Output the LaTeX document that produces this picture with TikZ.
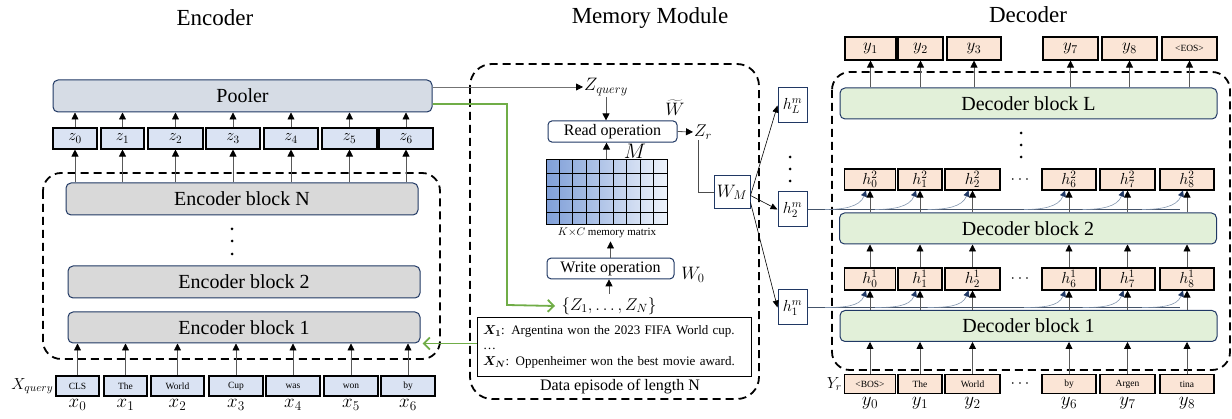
\documentclass[tikz,border=0pt]{standalone}
\usepackage{fix-cm}
\usepackage{bm}
\usepackage{fontspec}
\setmainfont{Liberation Serif}
\usetikzlibrary{arrows.meta,positioning}
\definecolor{navy}{HTML}{203864}
\definecolor{encgray}{HTML}{D9D9D9}
\definecolor{poolgray}{HTML}{D6DCE5}
\definecolor{etokblue}{HTML}{DAE3F3}
\definecolor{dtokpeach}{HTML}{FBE5D6}
\definecolor{decgreen}{HTML}{E2F0D9}
\definecolor{leafgreen}{HTML}{70AD47}
\definecolor{matdark}{HTML}{7F9FD8}
\definecolor{matlight}{HTML}{EEF3FB}
\definecolor{curvecol}{HTML}{8497B0}
\definecolor{memln}{HTML}{44546A}
\begin{document}
\begin{tikzpicture}[x=1pt,y=-1pt,
  blk/.style={draw=navy,line width=1pt,rounded corners=5pt,minimum height=31pt,font=\fontsize{20}{22}\selectfont},
  encblk/.style={blk,fill=encgray,minimum width=352pt},
  decblk/.style={blk,fill=decgreen,minimum width=377pt},
  tok/.style={draw=black,line width=1.1pt,inner sep=0pt,minimum height=21pt},
  etok/.style={tok,fill=etokblue},
  dtok/.style={tok,fill=dtokpeach},
  word/.style={font=\fontsize{9.5}{10}\selectfont},
  sym/.style={font=\fontsize{16}{16}\selectfont},
  opbox/.style={draw=navy,line width=1pt,rounded corners=4pt,fill=white,minimum height=19pt,font=\fontsize{16}{18}\selectfont},
  wbox/.style={draw=navy,line width=1pt,fill=white,inner sep=0pt},
  up/.style={draw=black!65,line width=0.8pt,-{Triangle[width=7pt,length=7pt,color=black]}},
  thin/.style={draw=black,line width=0.6pt,-{Triangle[width=6pt,length=7pt]}},
  memarr/.style={draw=curvecol,line width=0.6pt,-{Triangle[width=6pt,length=6pt,color=navy]}},
  grp/.style={line width=1.8pt,dash pattern=on 8pt off 5pt,rounded corners=18pt},
  grn/.style={draw=leafgreen,line width=1.8pt,-{Straight Barb[length=6pt,width=12pt]}},
  title/.style={font=\fontsize{23}{25}\selectfont},
  lab/.style={font=\fontsize{19}{20}\selectfont}]
\useasboundingbox (0,0) rectangle (1232,419);

\node[title] (enctitle) at (215,18) {Encoder};
\node[title] (memtitle) at (650,18) {Memory Module};
\node[title] (dectitle) at (1028,15) {Decoder};

\draw[grp] (43,173) rectangle (440,359);
\node[blk,fill=poolgray,minimum width=379pt,minimum height=32pt] (pooler) at (242.5,96) {Pooler};
\node[encblk,minimum height=32pt] (ebN) at (242,199) {Encoder block N};
\node[encblk,minimum height=32pt] (eb2) at (244,282) {Encoder block 2};
\node[encblk] (eb1) at (244,327.5) {Encoder block 1};
\foreach \y in {229,241,254}
\fill (232,\y) circle[radius=1.5pt];

\foreach \i/\cx/\w in {0/75/44,1/122.5/43,2/175.5/55,3/233/54,4/291/54,5/349.5/55,6/406/54}{
  \node[etok,sym,minimum width=\w pt] (z\i) at (\cx,138.5) {$z_{\i}$};
  \draw[up] (z\i.north) -- (z\i.north |- pooler.south);
  \draw[up] (z\i.south |- ebN.north) -- (z\i.south);
}
\foreach \i/\cx/\w/\t in {0/77.5/43/CLS,1/125.5/43/The,2/177.5/53/World,3/236/54/Cup,4/293/54/was,5/351/54/won,6/408/54/by}{
  \node[etok,word,minimum width=\w pt,minimum height=20pt] (x\i) at (\cx,386) {\t};
  \node[lab,anchor=north,inner sep=1pt] (xl\i) at ([yshift=-2pt]x\i.south) {$x_{\i}$};
  \draw[up] (x\i.north) -- (x\i.north |- eb1.south);
}
\node[font=\fontsize{16}{16}\selectfont,anchor=east,inner sep=2pt] (xq) at (x0.west) {$X_{query}$};

\draw[grp,rounded corners=22pt] (470,64) rectangle (759,399);
\node[font=\fontsize{18}{18}\selectfont,anchor=west,inner sep=1pt] (zq) at (583,87) {$Z_{query}$};
\draw[up,draw=black!55] ([yshift=9pt]pooler.east) -- (zq.west);
\node[opbox,minimum width=129pt] (read) at (612.5,131.5) {Read operation};
\draw[up] (zq.south) -- (zq.south |- read.north);
\node[font=\fontsize{18}{18}\selectfont] (wt) at (675,108) {$\widetilde{W}$};
\node[font=\fontsize{17}{18}\selectfont,anchor=west,inner sep=1pt] (zr) at (693,132) {$Z_r$};
\draw[up] (read.east) -- (zr.west);
\shade[left color=matdark,right color=matlight] (546,160) rectangle (667,225);
\foreach \c in {1,...,8}
\draw[line width=0.8pt] (546+\c*121/9,160) -- (546+\c*121/9,225);
\foreach \r in {1,...,4}
\draw[line width=0.8pt] (546,160+\r*13) -- (667,160+\r*13);
\node[draw,line width=1pt,minimum width=121pt,minimum height=65pt,inner sep=0pt] (mem) at (606.5,192.5) {};
\node[font=\fontsize{21}{22}\selectfont] (mlab) at (635,151) {$M$};
\draw[up] (mem.north) -- (mem.north |- read.south);
\node[font=\fontsize{11}{12}\selectfont] (mcap) at (607,233) {$K{\times}C$ memory matrix};
\node[opbox,minimum width=127pt] (write) at (610.5,268.5) {Write operation};
\draw[up] (write.north) -- (write.north |- mcap.south);
\node[font=\fontsize{18}{18}\selectfont] (w0) at (693,275) {$W_0$};
\node[font=\fontsize{17}{18}\selectfont] (zset) at (609,306) {$\{Z_1,\dots,Z_N\}$};
\draw[up] (zset.north) -- (zset.north |- write.south);
\node[draw,line width=0.8pt,minimum width=274pt,minimum height=59pt,text width=262pt,align=left,inner xsep=6pt,inner ysep=3pt,font=\fontsize{13}{15.5}\selectfont] (data) at (614,346.5) {$\bm{X_1}$: Argentina won the 2023 FIFA World cup.\\ \dots\\ $\bm{X_N}$: Oppenheimer won the best movie award.};
\node[font=\fontsize{16}{18}\selectfont] (dep) at (620,387) {Data episode of length N};

\coordinate (gturn) at (507,305);
\draw[grn] ([yshift=-8pt]pooler.east) -| (gturn) -- ([xshift=-3pt]zset.west);
\draw[grn] (data.west |- eb1.south east) -- ([xshift=2pt]eb1.south east);

\node[wbox,minimum width=36pt,minimum height=33pt,font=\fontsize{18}{18}\selectfont] (wm) at (732,192.5) {$W_M$};
\draw[draw=black!70,line width=0.8pt] ([xshift=-5pt]zr.south) |- (wm.west);
\foreach \n/\cy in {L/105.5,2/209.5,1/307.5}
\node[wbox,minimum width=29pt,minimum height=35pt,font=\fontsize{16}{18}\selectfont] (hm\n) at (792.5,\cy) {$h^m_{\n}$};
\foreach \y in {157,169,181}
\fill (790,\y) circle[radius=1.5pt];
\draw[thin] ([yshift=-3pt]wm.east) -- (hmL.west);
\draw[thin] ([yshift=-3pt]wm.east) -- (hm2.west);
\draw[thin] ([yshift=-10pt]wm.east) -- (hm1.west);

\draw[grp] (832,72) rectangle (1230,370);
\node[decblk] (dbL) at (1028.5,103.5) {Decoder block L};
\node[decblk] (db2) at (1028,228.5) {Decoder block 2};
\node[decblk] (db1) at (1028.5,326) {Decoder block 1};
\foreach \y in {133,145,157}
\fill (1021,\y) circle[radius=1.5pt];
\foreach \y in {180,279,384}
\node[sym] at (1020,\y) {$\cdots$};

\draw[memln,line width=0.9pt] (hm2.east) -- (1180,209.5);
\draw[memln,line width=0.9pt] (hm1.east) -- (1180,307.5);
\foreach \i/\cx/\w/\t in {0/870/51/{<BOS>},1/920/44/The,2/972.5/55/World,6/1069/54/by,7/1127.5/55/Argen,8/1187/54/tina}{
  \node[dtok,word,minimum width=\w pt,minimum height=19pt] (yin\i) at (\cx,384) {\t};
  \node[lab,anchor=north,inner sep=1pt] (yl\i) at ([yshift=-2pt]yin\i.south) {$y_{\i}$};
  \node[dtok,sym,minimum width=\w pt,minimum height=22pt] (ha\i) at (\cx,279) {$h^1_{\i}$};
  \node[dtok,sym,minimum width=\w pt,minimum height=21pt] (hb\i) at (\cx,179.5) {$h^2_{\i}$};
  \draw[up] (yin\i.north) -- (yin\i.north |- db1.south);
  \draw[up] (ha\i.south |- db1.north) -- (ha\i.south);
  \draw[up] (ha\i.north) -- (ha\i.north |- db2.south);
  \draw[up] (hb\i.south |- db2.north) -- (hb\i.south);
  \draw[memarr] ([xshift=-45pt]ha\i.south |- hm1.east) to[out=0,in=-110] ([xshift=-4pt]ha\i.south);
  \draw[memarr] ([xshift=-45pt]hb\i.south |- hm2.east) to[out=0,in=-110] ([xshift=-4pt]hb\i.south);
}
\node[font=\fontsize{16}{16}\selectfont,anchor=east,inner sep=2pt] (yr) at (yin0.west) {$Y_r$};
\foreach \k/\cx/\w/\t in {1/870.5/51/{$y_1$},2/920.5/45/{$y_2$},3/974/54/{$y_3$},7/1070.5/55/{$y_7$},8/1129.5/55/{$y_8$},eos/1189.5/55/{\fontsize{9.5}{10}\selectfont<EOS>}}{
  \node[dtok,minimum width=\w pt,minimum height=23pt,font=\fontsize{17}{17}\selectfont] (yo\k) at (\cx,48.5) {\t};
  \draw[up] (yo\k.south |- dbL.north) -- (yo\k.south);
}
\end{tikzpicture}
\end{document}
